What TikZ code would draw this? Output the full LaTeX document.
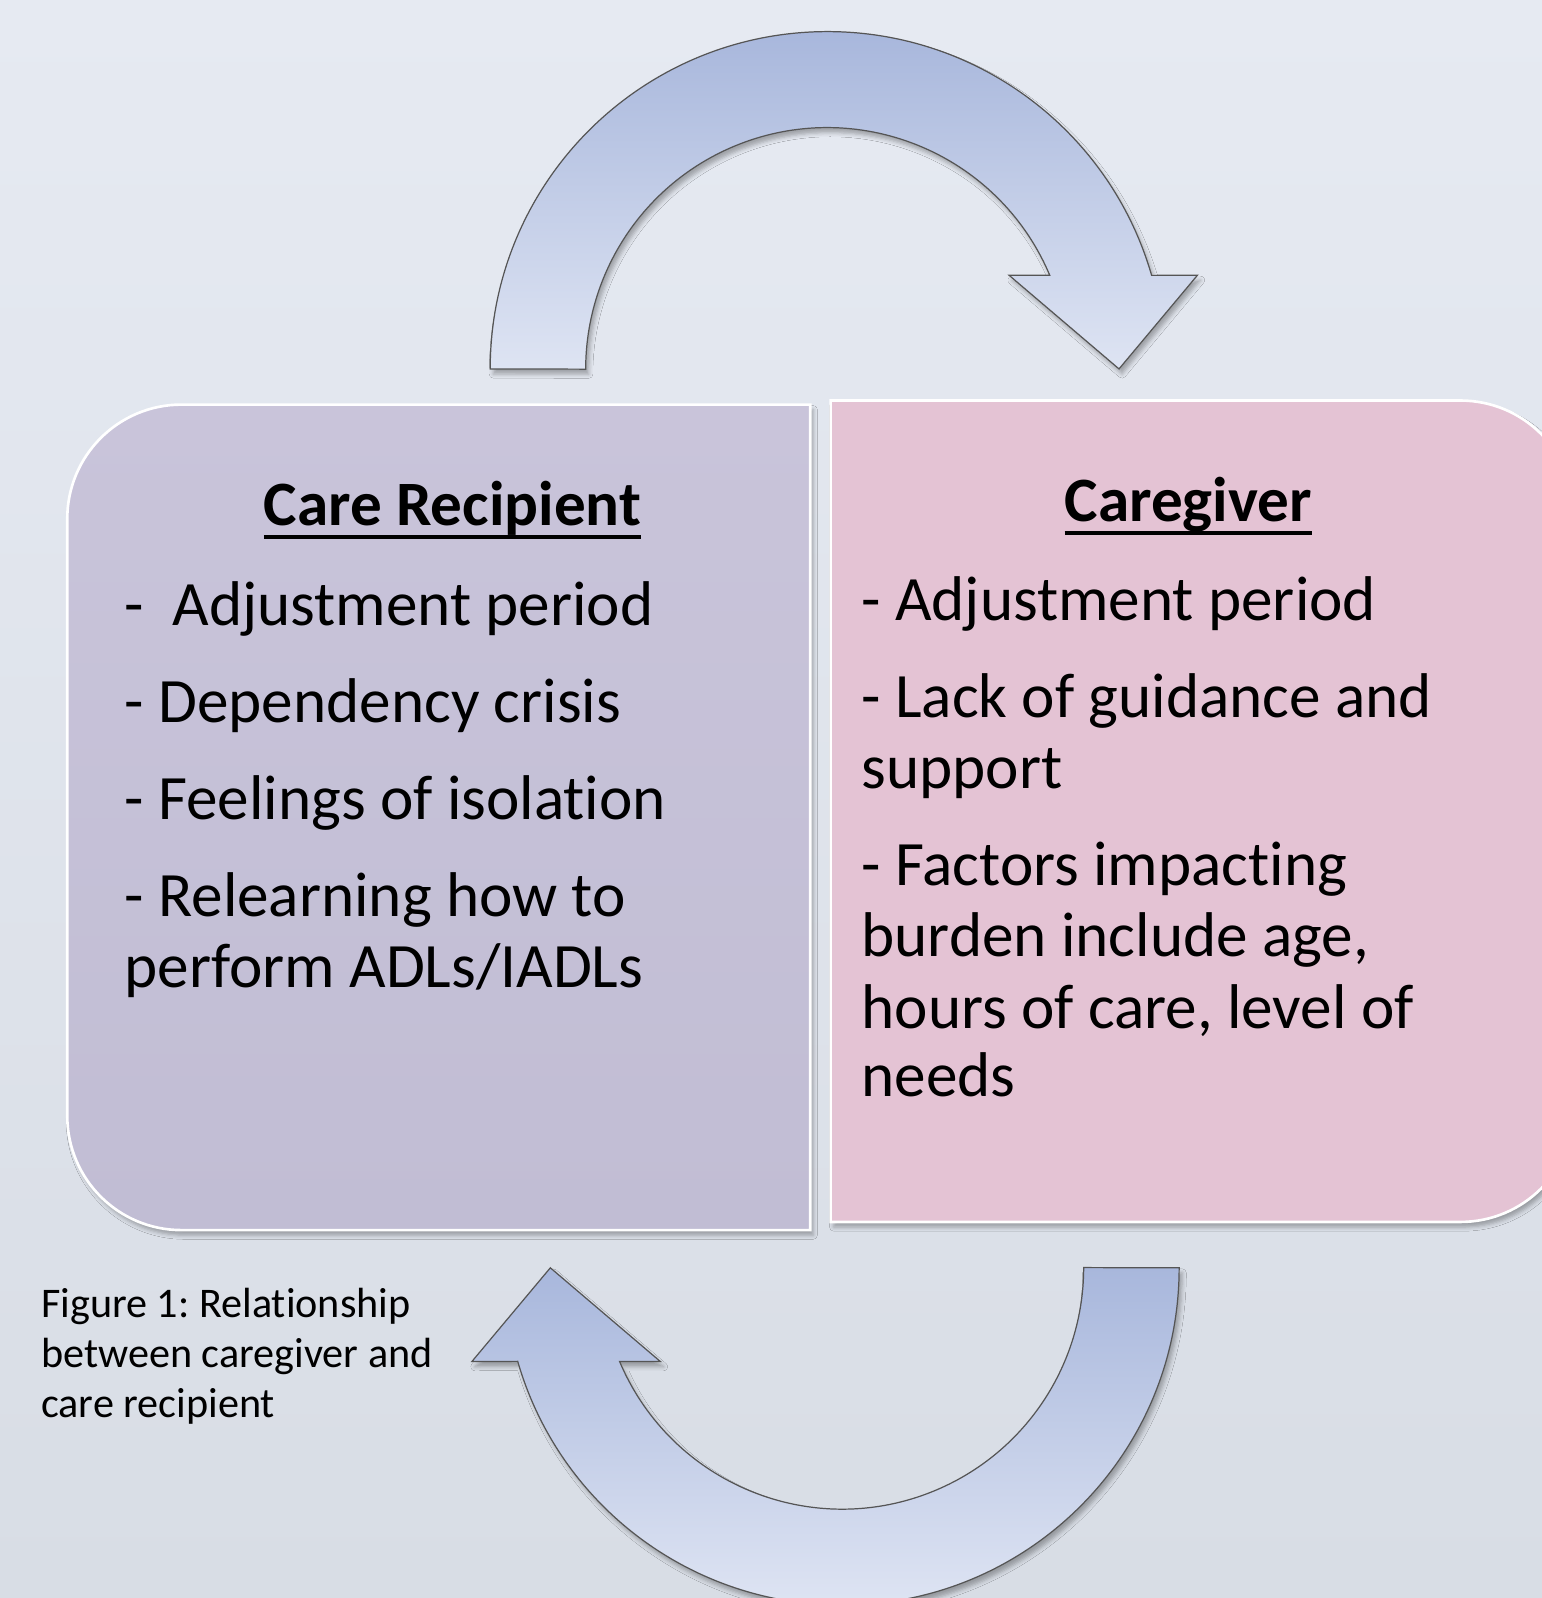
\documentclass[tikz,border=0pt]{standalone}
\usepackage{fontspec}
\setmainfont{Carlito}[Ligatures=NoCommon]
\frenchspacing
\usetikzlibrary{shadows.blur}

\definecolor{bgTop}{RGB}{230,234,242}
\definecolor{bgBottom}{RGB}{216,221,229}
\definecolor{arrowTop}{RGB}{168,183,220}
\definecolor{arrowBottom}{RGB}{222,228,243}
\definecolor{arrowLine}{RGB}{85,85,85}
\definecolor{recipientTop}{RGB}{201,196,218}
\definecolor{recipientBottom}{RGB}{193,189,212}
\definecolor{giverFill}{RGB}{228,195,212}

% bold heading with a heavy underline
\newsavebox{\headbox}
\newcommand{\ulhead}[1]{\sbox{\headbox}{\bfseries #1}\rlap{\rule[-6.5pt]{\wd\headbox}{2pt}}\usebox{\headbox}}

\tikzset{
  softshadow/.style={blur shadow={shadow xshift=1.5pt, shadow yshift=-2.5pt, shadow blur radius=2pt, shadow opacity=30}},
  bendarrow/.style={draw=arrowLine, line width=0.6pt, top color=arrowTop, bottom color=arrowBottom, softshadow},
  panel/.style={draw=white, line width=1.3pt, softshadow},
  heading/.style={anchor=base, inner sep=0pt, font=\fontsize{31}{35}\selectfont},
  itemlist/.style={anchor=base west, align=left, inner sep=0pt, font=\fontsize{31}{35}\selectfont},
  captiontext/.style={anchor=base west, align=left, inner sep=0pt, font=\fontsize{20.7}{24.5}\selectfont}
}

\begin{document}
\begin{tikzpicture}[x=0.5pt,y=0.5pt,yscale=-1,xscale=1]
\useasboundingbox (0,0) rectangle (1513,1568);
\clip (0,0) rectangle (1513,1568);

%Background
\shade[top color=bgTop, bottom color=bgBottom] (0,0) rectangle (1513,1568);

%Shape: Curved Arrow (top, pointing right)
\path[bendarrow] (481,362) arc[start angle=180, end angle=343.9, radius=331] -- (1175,270) -- (1098,362) -- (990,270) -- (1030,270) arc[start angle=337.1, end angle=180, radius=237] -- cycle;
%Shape: Curved Arrow (bottom, pointing left)
\path[bendarrow] (1157,1244) arc[start angle=0, end angle=163.9, radius=331] -- (463,1336) -- (540,1244) -- (648,1336) -- (608,1336) arc[start angle=157.1, end angle=0, radius=237] -- cycle;

%Shape: Left panel, rounded on the left
\path[panel, top color=recipientTop, bottom color=recipientBottom] (795,397) -- (178,397) arc[start angle=270, end angle=180, radius=112] -- (66,1095) arc[start angle=180, end angle=90, radius=112] -- (795,1207) -- cycle;
%Shape: Right panel, rounded on the right
\path[panel, fill=giverFill] (815,393) -- (1433,393) arc[start angle=270, end angle=360, radius=112] -- (1545,1087) arc[start angle=0, end angle=90, radius=112] -- (815,1199) -- cycle;

% Text Node (base = last line)
\draw (444,516) node (recipientHead) [heading] {\ulhead{Care Recipient}};
% Text Node
\draw (122,969) node (recipientList) [itemlist] {-~ Adjustment period\\[12.5pt]- Dependency crisis\\[12.5pt]- Feelings of isolation\\[12.5pt]- Relearning how to\\perform ADLs/IADLs};
% Text Node
\draw (1166,512) node (giverHead) [heading] {\ulhead{Caregiver}};
% Text Node
\draw (845,1076) node (giverList) [itemlist] {- Adjustment period\\[12.5pt]- Lack of guidance and\\support\\[12.5pt]- Factors impacting\\burden include age,\\hours of care, level of\\[-1.5pt]needs};
% Text Node
\draw (40,1391) node (figCaption) [captiontext] {Figure 1: Relationship\\between caregiver and\\care recipient};

\end{tikzpicture}
\end{document}
